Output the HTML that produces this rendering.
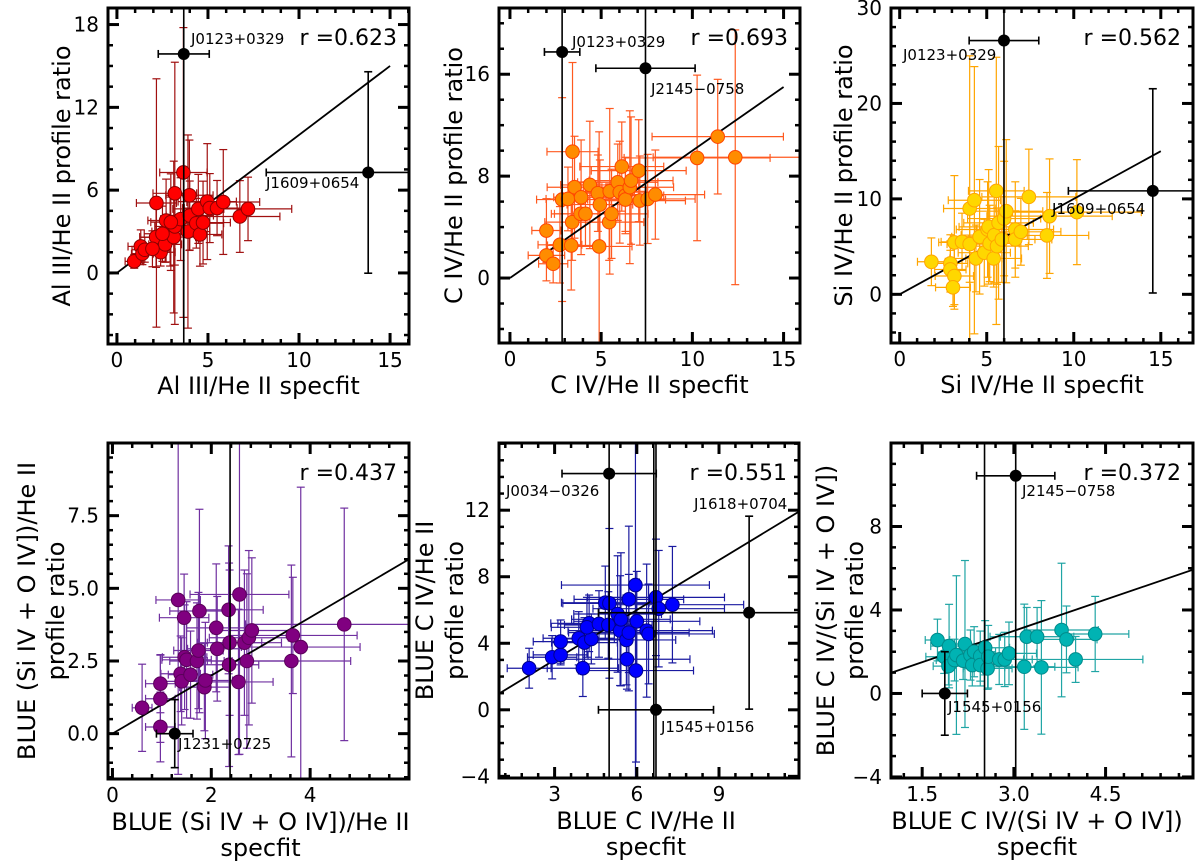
<!DOCTYPE html>
<html><head><meta charset="utf-8"><style>
html,body{margin:0;padding:0;background:#fff;width:1200px;height:868px;overflow:hidden;}
svg{display:block;font-family:"DejaVu Sans","Liberation Sans",sans-serif;overflow:hidden;}
</style></head><body>
<svg id="fig" width="1200" height="868" viewBox="0 0 1200 868" xmlns="http://www.w3.org/2000/svg"></svg>
<script>
// ---------- DATA ----------
// Panel 1: Al III/He II
const p1X=[0.95,1.31,1.4,1.53,2.17,2.15,2.4,2.65,2.7,2.92,3.12,3.18,3.18,3.65,3.5,3.9,3.98,4.0,4.36,4.47,4.56,4.73,4.96,5.1,5.5,5.84,6.75,7.2,1.95,2.5,2.96];
const p1Y=[0.84,1.92,1.4,1.68,5.07,2.6,1.5,2.07,3.8,3.0,2.6,3.37,5.77,7.28,3.9,3.0,5.63,4.16,3.6,4.64,2.79,3.65,5.17,4.7,4.7,5.14,4.09,4.64,1.75,2.84,3.68];
const p1XErr=[0.5,0.7,0.6,0.7,1.1,0.9,0.8,0.9,1.0,1.0,1.2,1.1,1.2,1.3,1.1,1.2,1.3,1.3,1.5,1.4,1.2,1.5,1.6,1.5,1.8,2.0,2.2,2.4,0.9,1.0,1.1];
const p1YErr=[0.5,1.2,0.8,0.9,9.0,2.2,1.0,1.3,3.0,2.5,5.5,2.8,9.5,10.5,3.0,7.0,4.0,2.5,1.8,2.5,2.3,3.0,4.2,2.5,2.0,3.8,2.6,2.3,1.3,2.0,3.5];
const p1OutX=[3.67,13.8], p1OutY=[15.87,7.28], p1OutXErr=[1.4,5.6], p1OutYErr=[40,7.3];
const p1OutLabels=["J0123+0329","J1609+0654"];
// Panel 2: C IV/He II
const p2X=[2.0,2.0,2.37,2.74,2.86,3.18,3.36,3.41,3.43,3.54,3.87,3.9,4.14,4.38,4.82,4.89,4.93,5.47,5.44,5.57,5.91,6.02,6.13,6.33,6.33,6.57,6.64,7.06,7.12,7.55,7.97,10.26,11.39,12.35];
const p2Y=[3.73,1.78,1.12,2.61,6.16,6.21,2.56,4.39,9.92,7.13,5.04,6.34,5.04,7.31,6.66,2.48,5.77,6.81,4.39,5.04,7.52,6.74,8.75,6.48,6.16,7.13,7.65,8.43,6.08,6.21,6.55,9.43,11.1,9.48];
const p2XErr=[0.8,1.0,0.8,1.2,1.4,1.2,1.3,1.5,1.4,1.5,1.6,1.5,1.7,1.6,2.0,1.8,1.8,2.0,1.9,2.0,2.2,2.0,2.3,2.1,2.2,2.4,2.3,2.6,2.5,2.6,2.7,4.0,3.6,4.5];
const p2YErr=[2.5,2.0,1.5,3.0,8.0,2.5,3.5,3.0,7.0,4.0,2.5,4.5,2.5,5.0,3.0,9.0,3.5,6.5,3.0,3.5,3.0,4.0,3.5,3.0,2.5,6.0,5.0,4.0,3.5,3.5,3.5,6.5,4.5,10.0];
const p2OutX=[2.86,7.43], p2OutY=[17.75,16.47], p2OutXErr=[0.97,2.72], p2OutYErr=[40,40];
const p2OutLabels=["J0123+0329","J2145\u22120758"];
// Panel 3: Si IV/He II
const p3X=[1.82,2.91,2.91,3.14,3.06,3.14,3.58,4.02,4.02,4.29,4.38,4.59,4.86,5.05,5.11,5.17,5.4,5.43,5.55,5.59,5.68,5.87,6.0,6.12,6.64,6.64,6.96,7.42,8.46,8.61,10.18];
const p3Y=[3.41,3.24,2.61,1.92,0.73,5.44,5.5,8.99,5.26,9.86,3.76,6.03,4.36,6.79,7.07,5.33,3.76,6.2,10.84,5.05,7.49,5.75,7.94,8.71,6.79,5.75,6.55,10.21,6.17,8.19,8.61];
const p3XErr=[0.8,1.0,0.9,1.1,1.0,0.9,1.2,1.5,1.3,1.5,1.5,1.6,1.5,1.8,1.7,1.7,1.6,1.9,1.6,1.8,2.0,1.9,2.1,2.1,2.2,2.1,2.3,2.7,2.4,3.6,3.7];
const p3YErr=[2.5,3.0,2.0,3.0,2.0,7.0,3.0,16.0,4.0,14.0,3.5,6.0,3.5,5.0,6.0,4.0,3.0,5.0,14.0,4.0,8.0,4.5,6.0,7.5,5.0,3.0,3.5,5.0,4.5,6.0,5.5];
const p3OutX=[5.99,14.54], p3OutY=[26.59,10.84], p3OutXErr=[2.0,4.85], p3OutYErr=[40,10.7];
const p3OutLabels=["J0123+0329","J1609+0654"];
// Panel 4: BLUE (Si IV + O IV])/He II
const p4X=[0.6,0.97,0.97,0.97,1.33,1.38,1.4,1.45,1.46,1.5,1.58,1.71,1.74,1.76,1.86,1.88,2.1,2.12,2.35,2.36,2.37,2.55,2.57,2.67,2.72,2.76,2.82,3.62,3.65,3.81,4.69];
const p4Y=[0.89,0.23,1.2,1.72,4.6,2.06,1.8,3.99,2.63,2.54,2.03,2.5,2.86,4.22,1.6,1.83,3.64,2.92,4.26,2.37,3.13,1.78,4.79,3.13,2.5,3.3,3.55,2.5,3.38,2.98,3.76];
const p4XErr=[0.2,0.3,0.3,0.3,0.45,0.4,0.4,0.5,0.45,0.5,0.45,0.55,0.5,0.6,0.5,0.55,0.6,0.6,0.7,0.6,0.65,0.7,1.0,0.75,0.8,0.8,0.8,1.2,1.3,1.2,2.0];
const p4YErr=[1.5,1.2,1.5,1.0,6.0,1.3,1.5,1.5,1.8,2.0,1.5,2.0,2.0,3.5,1.5,2.0,2.2,1.8,2.2,3.5,2.5,2.5,5.5,2.5,3.0,3.0,2.5,3.3,2.0,5.5,4.0];
const p4OutX=[1.26,2.38], p4OutY=[0.0,20], p4OutXErr=[0.37,0], p4OutYErr=[1.17,40];
const p4OutLabels=["J1231+0725",""];
// Panel 5: BLUE C IV/He II
const p5X=[2.07,2.91,3.22,3.22,3.88,4.03,4.09,4.26,4.34,4.18,4.62,4.85,4.96,5.0,5.3,5.39,5.42,5.62,5.64,5.71,5.71,5.95,5.97,6.0,6.36,6.43,6.7,6.8,7.3];
const p5Y=[2.5,3.16,3.3,4.1,4.3,2.5,4.04,5.2,4.26,4.96,5.16,6.44,5.1,6.4,5.76,4.76,5.44,4.2,3.04,6.64,4.64,7.5,2.36,5.32,4.76,4.56,6.76,6.08,6.32];
const p5XErr=[0.8,0.9,1.0,1.0,1.3,1.3,1.2,1.4,1.3,1.3,1.5,1.6,1.6,1.7,1.6,1.9,1.8,1.8,2.3,2.0,2.2,2.7,2.1,2.3,2.4,2.4,2.5,2.4,2.6];
const p5YErr=[1.2,1.3,0.6,1.3,1.6,1.7,1.5,1.7,1.5,1.8,2.0,2.2,2.0,4.5,3.5,3.3,4.0,2.7,1.8,4.4,3.5,12.0,5.5,3.0,4.0,3.0,3.5,3.5,3.5];
const p5OutX=[4.99,10.1,6.7,6.62], p5OutY=[14.2,5.84,0.0,30], p5OutXErr=[1.72,5.5,2.1,0], p5OutYErr=[40,5.8,40,40];
const p5OutLabels=["J0034\u22120326","J1618+0704","J1545+0156",""];
// Panel 6: BLUE C IV/(Si IV + O IV])
const p6X=[1.75,1.86,1.93,1.94,2.03,2.06,2.17,2.2,2.29,2.32,2.35,2.45,2.45,2.53,2.57,2.58,2.76,2.85,2.92,3.17,3.21,3.38,3.45,3.78,3.86,4.01,4.33];
const p6Y=[2.56,1.76,1.31,2.27,1.6,1.84,1.57,2.37,1.84,1.36,2.0,1.79,1.36,2.19,1.2,1.76,1.63,1.63,1.92,1.28,2.72,2.72,1.25,3.04,2.59,1.63,2.85];
const p6XErr=[0.2,0.3,0.25,0.3,0.3,0.3,0.35,0.3,0.4,0.35,0.35,0.4,0.4,0.4,0.4,0.45,0.4,0.45,0.45,0.5,0.6,0.6,0.6,0.6,0.5,1.1,0.55];
const p6YErr=[1.0,0.8,0.9,2.0,1.0,3.8,0.9,4.0,1.2,1.0,1.2,1.2,1.0,1.3,1.0,1.5,1.2,1.3,1.5,3.0,1.4,1.4,3.2,3.2,1.6,1.1,1.8];
const p6OutX=[3.03,1.87,2.52], p6OutY=[10.43,0.0,20], p6OutXErr=[0.64,0.37,0], p6OutYErr=[40,2.0,40];
const p6OutLabels=["J2145\u22120758","J1545+0156",""];
const rValues=["0.623","0.693","0.562","0.437","0.551","0.372"];

// ---------- DRAWING ----------
const NS="http://www.w3.org/2000/svg";
const svg=document.getElementById('fig');
function mk(tag,attrs,parent){const e=document.createElementNS(NS,tag);for(const k in attrs)e.setAttribute(k,attrs[k]);(parent||svg).appendChild(e);return e;}

const panels=[
 {id:1,l:108,t:8,r:409,b:344,xmin:-0.49,xmax:16.04,ymin:-5.15,ymax:19.2,xt:[0,5,10,15],xtl:["0","5","10","15"],xm:1,yt:[0,6,12,18],ytl:["0","6","12","18"],ym:1.5,
  X:p1X,Y:p1Y,XE:p1XErr,YE:p1YErr,OX:p1OutX,OY:p1OutY,OXE:p1OutXErr,OYE:p1OutYErr,OL:p1OutLabels,labPos:[[191,44],[266,188]],
  fill:"#ff0000",edge:"#8b0000",err:"#a01010",fit:[0,15],xl:["Al III/He II specfit"],yl:["Al III/He II profile ratio"],ylx:[62]},
 {id:2,l:499,t:8,r:800,b:343,xmin:-0.6,xmax:15.9,ymin:-5.1,ymax:21.2,xt:[0,5,10,15],xtl:["0","5","10","15"],xm:1,yt:[0,8,16],ytl:["0","8","16"],ym:2,
  X:p2X,Y:p2Y,XE:p2XErr,YE:p2YErr,OX:p2OutX,OY:p2OutY,OXE:p2OutXErr,OYE:p2OutYErr,OL:p2OutLabels,labPos:[[572,47],[651,94]],
  fill:"#ff8c00",edge:"#ff4500",err:"#ff5a20",fit:[0,15],xl:["C IV/He II specfit"],yl:["C IV/He II profile ratio"],ylx:[454]},
 {id:3,l:891,t:8,r:1193,b:343,xmin:-0.5,xmax:16.85,ymin:-5.1,ymax:30,xt:[0,5,10,15],xtl:["0","5","10","15"],xm:1,yt:[0,10,20,30],ytl:["0","10","20","30"],ym:2,
  X:p3X,Y:p3Y,XE:p3XErr,YE:p3YErr,OX:p3OutX,OY:p3OutY,OXE:p3OutXErr,OYE:p3OutYErr,OL:p3OutLabels,labPos:[[903,60],[1052,214]],
  fill:"#ffd700",edge:"#ffa500",err:"#ffa500",fit:[0,15],xl:["Si IV/He II specfit"],yl:["Si IV/He II profile ratio"],ylx:[844]},
 {id:4,l:108,t:443,r:409,b:779,xmin:-0.09,xmax:6.0,ymin:-1.56,ymax:10.0,xt:[0,2,4],xtl:["0","2","4"],xm:0.4,yt:[0,2.5,5,7.5],ytl:["0.0","2.5","5.0","7.5"],ym:0.5,
  X:p4X,Y:p4Y,XE:p4XErr,YE:p4YErr,OX:p4OutX,OY:p4OutY,OXE:p4OutXErr,OYE:p4OutYErr,OL:p4OutLabels,labPos:[[178,749],[0,0]],
  fill:"#800080",edge:"#5a005a",err:"#7030a0",fit:[0,6],xl:["BLUE  (Si IV + O IV])/He II","specfit"],yl:["BLUE (Si IV + O IV])/He II","profile ratio"],ylx:[27,56]},
 {id:5,l:499,t:443,r:799,b:778,xmin:0.97,xmax:11.92,ymin:-4.1,ymax:16.04,xt:[3,6,9],xtl:["3","6","9"],xm:0.6,yt:[-4,0,4,8,12],ytl:["\u22124","0","4","8","12"],ym:1,
  X:p5X,Y:p5Y,XE:p5XErr,YE:p5YErr,OX:p5OutX,OY:p5OutY,OXE:p5OutXErr,OYE:p5OutYErr,OL:p5OutLabels,labPos:[[506,496],[694,509],[661,732],[0,0]],
  fill:"#0000ff",edge:"#00008b",err:"#1a1aa0",fit:[0,12],xl:["BLUE C IV/He II","specfit"],yl:["BLUE C IV/He II","profile ratio"],ylx:[425,455]},
 {id:6,l:891,t:443,r:1193,b:778,xmin:0.99,xmax:5.93,ymin:-4.05,ymax:12.0,xt:[1.5,3.0,4.5],xtl:["1.5","3.0","4.5"],xm:0.3,yt:[-4,0,4,8],ytl:["\u22124","0","4","8"],ym:1,
  X:p6X,Y:p6Y,XE:p6XErr,YE:p6YErr,OX:p6OutX,OY:p6OutY,OXE:p6OutXErr,OYE:p6OutYErr,OL:p6OutLabels,labPos:[[1022,496],[948,712],[0,0]],
  fill:"#00b3b3",edge:"#008b8b",err:"#20a5a5",fit:[1,6],xl:["BLUE C IV/(Si IV + O IV])","specfit"],yl:["BLUE C IV/(Si IV + O IV])","profile ratio"],ylx:[826,855]}
];

const defs=mk('defs',{});
panels.forEach((p,pi)=>{
  const sx=v=>p.l+(v-p.xmin)/(p.xmax-p.xmin)*(p.r-p.l);
  const sy=v=>p.b-(v-p.ymin)/(p.ymax-p.ymin)*(p.b-p.t);
  const cp=mk('clipPath',{id:'clip'+p.id},defs);
  mk('rect',{x:p.l,y:p.t,width:p.r-p.l,height:p.b-p.t},cp);
  const g=mk('g',{});
  
  
  const pg=mk('g',{'clip-path':'url(#clip'+p.id+')'},g);
  
  
  function errbar(x,y,xe,ye,col,w){
    const eg=mk('g',{stroke:col,'stroke-width':w,fill:'none'},pg);
    
    
    if(ye>0){mk('line',{x1:sx(x),x2:sx(x),y1:sy(y-ye),y2:sy(y+ye)},eg);
      [y-ye,y+ye].forEach(v=>mk('line',{x1:sx(x)-4,x2:sx(x)+4,y1:sy(v),y2:sy(v)},eg));}
    if(xe>0){mk('line',{x1:sx(x-xe),x2:sx(x+xe),y1:sy(y),y2:sy(y)},eg);
      [x-xe,x+xe].forEach(v=>mk('line',{x1:sx(v),x2:sx(v),y1:sy(y)-4,y2:sy(y)+4},eg));}
  }
  p.X.forEach((x,i)=>errbar(x,p.Y[i],p.XE[i],p.YE[i],p.err,1.2));
  const fl=mk('line',{x1:sx(p.fit[0]),y1:sy(p.fit[0]),x2:sx(p.fit[1]),y2:sy(p.fit[1]),stroke:'#000','stroke-width':1.8},pg);
  
  
  p.X.forEach((x,i)=>{
    const c=mk('circle',{cx:sx(x),cy:sy(p.Y[i]),r:6.8,fill:p.fill,stroke:p.edge,'stroke-width':1},pg);
    
    
  });
  p.OX.forEach((x,i)=>{
    errbar(x,p.OY[i],p.OXE[i],p.OYE[i],'#000',1.6);
    const c=mk('circle',{cx:sx(x),cy:sy(p.OY[i]),r:6,fill:'#000'},pg);
    
    
  });
  p.OL.forEach((lab,i)=>{
    if(!lab)return;
    const t=mk('text',{x:p.labPos[i][0],y:p.labPos[i][1],'font-size':15,fill:'#000'},g);
    t.textContent=lab;
    
    
  });
  const tg=mk('g',{stroke:'#000'},g);
  
  
  const xminor=[],yminor=[];
  for(let v=Math.ceil(p.xmin/p.xm)*p.xm;v<=p.xmax+1e-9;v+=p.xm)xminor.push(v);
  for(let v=Math.ceil(p.ymin/p.ym)*p.ym;v<=p.ymax+1e-9;v+=p.ym)yminor.push(v);
  xminor.forEach(v=>{const X=sx(v);mk('line',{x1:X,x2:X,y1:p.b,y2:p.b-5,'stroke-width':2.5},tg);mk('line',{x1:X,x2:X,y1:p.t,y2:p.t+5,'stroke-width':2.5},tg);});
  yminor.forEach(v=>{const Y=sy(v);mk('line',{x1:p.l,x2:p.l+5,y1:Y,y2:Y,'stroke-width':2.5},tg);mk('line',{x1:p.r,x2:p.r-5,y1:Y,y2:Y,'stroke-width':2.5},tg);});
  p.xt.forEach((v,i)=>{const X=sx(v);mk('line',{x1:X,x2:X,y1:p.b,y2:p.b-11,'stroke-width':3},tg);mk('line',{x1:X,x2:X,y1:p.t,y2:p.t+11,'stroke-width':3},tg);
    const t=mk('text',{x:X,y:p.b+23,'font-size':20,'text-anchor':'middle',fill:'#000'},g);t.textContent=p.xtl[i];
    
    });
  p.yt.forEach((v,i)=>{const Y=sy(v);mk('line',{x1:p.l,x2:p.l+11,y1:Y,y2:Y,'stroke-width':3},tg);mk('line',{x1:p.r,x2:p.r-11,y1:Y,y2:Y,'stroke-width':3},tg);
    const t=mk('text',{x:p.l-9,y:Y+7,'font-size':20,'text-anchor':'end',fill:'#000'},g);t.textContent=p.ytl[i];
    
    });
  const fr=mk('rect',{x:p.l,y:p.t,width:p.r-p.l,height:p.b-p.t,fill:'none',stroke:'#000','stroke-width':3},g);
  
  
  const rt=mk('text',{x:p.r-12,y:p.t+37,'font-size':22,'text-anchor':'end',fill:'#000'},g);
  rt.textContent='r ='+rValues[pi];
  
  
  const cx=(p.l+p.r)/2+(p.id>3?(p.id===4?2:(p.id===5?-3:-5)):0);
  p.xl.forEach((s,i)=>{const t=mk('text',{x:cx,y:p.b+(p.id>3?51:50)+i*26,'font-size':24,'text-anchor':'middle',fill:'#000','xml:space':'preserve'},g);t.textContent=s;
    
    });
  const cy=(p.t+p.b)/2;
  p.yl.forEach((s,i)=>{const x=p.ylx[i];const t=mk('text',{x:x,y:cy,'font-size':24,'text-anchor':'middle','dominant-baseline':'central',fill:'#000',transform:'rotate(-90 '+x+' '+cy+')'},g);t.textContent=s;
    
    });
});
</script>
</body></html>
